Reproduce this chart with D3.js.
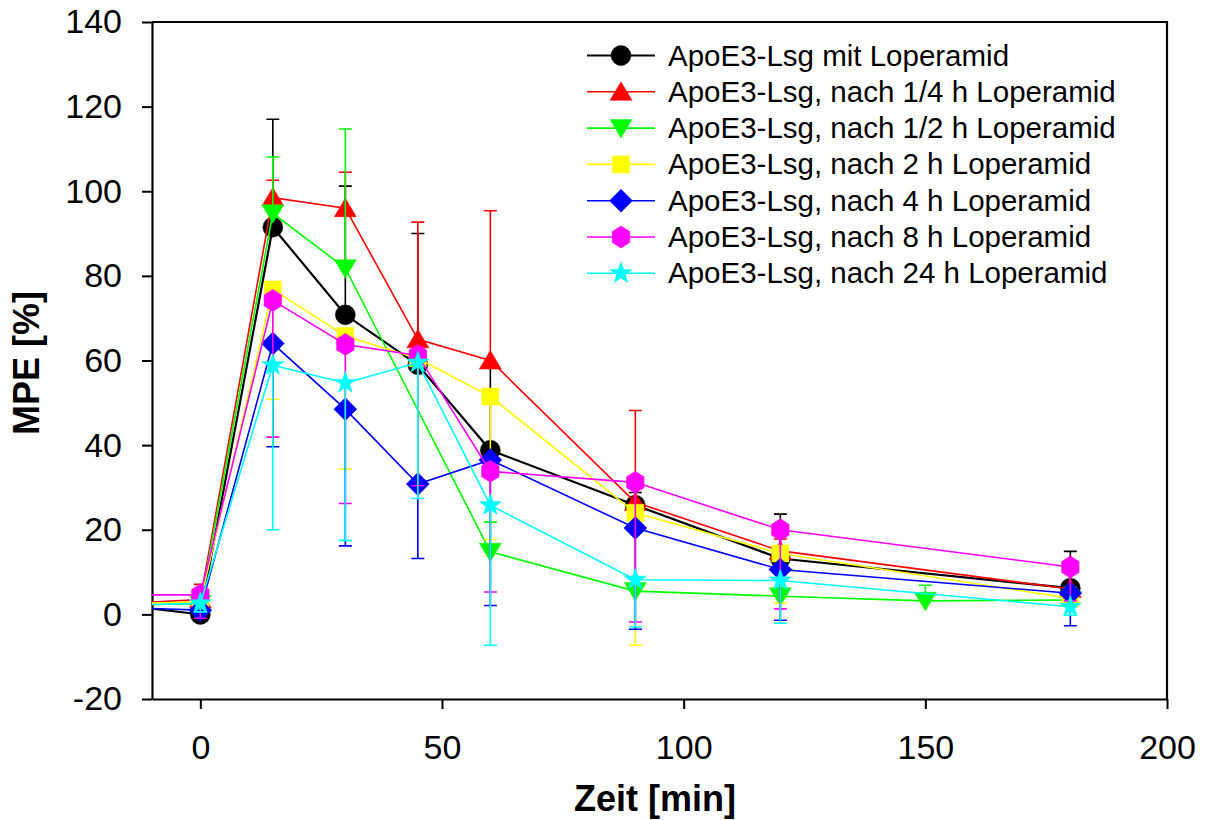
<!DOCTYPE html>
<html>
<head>
<meta charset="utf-8">
<script src="https://cdn.jsdelivr.net/npm/d3@7"></script>
<style>
  html, body { margin: 0; padding: 0; background: #fff; }
  svg { display: block; font-family: "Liberation Sans", Arial, sans-serif; }
</style>
</head>
<body>
<svg id="chart" width="1206" height="820"></svg>
<script>
// Sampling times in minutes (the first one is a pre-baseline reading outside the visible range)
const times = [-15, 0, 15, 30, 45, 60, 90, 120, 150, 180];

// Mean MPE [%] per group (null = not measured)
const mitLoperamid   = [2.0, 0.0, 91.5, 70.8, 59.0, 38.8, 25.8, 13.2, null, 6.2];
const nach15min      = [2.6, 3.5, 98.5, 96.0, 65.0, 60.0, 26.5, 15.0, null, 6.0];
const nach30min      = [2.3, 2.5, 94.8, 81.8, null, 14.8, 5.5, 4.3, 3.2, 3.4];
const nach2h         = [2.5, 3.0, 76.8, 65.8, 60.5, 51.5, 24.0, 14.4, null, 3.8];
const nach4h         = [1.6, 1.0, 64.0, 48.5, 30.8, 36.5, 20.4, 10.6, null, 5.0];
const nach8h         = [4.6, 4.6, 74.2, 63.8, 61.2, 33.8, 31.2, 20.0, null, 11.2];
const nach24h        = [2.2, 2.6, 58.9, 54.7, 59.5, 25.8, 8.2, 8.0, null, 1.8];

// Standard deviations per group
const sdMitLoperamid = [0, 1.5, 25.5, 30.4, 31.0, 20.0, 3.0, 10.5, null, 8.7];
const sdNach15min    = [0, 3.6, 4.1, 8.5, 27.7, 35.4, 21.7, 2.8, null, 4.0];
const sdNach30min    = [0, 2.0, 13.3, 32.9, null, 7.0, 3.0, 2.0, 3.7, 3.0];
const sdNach2h       = [0, 2.0, 26.0, 31.5, 30.0, 33.8, 31.3, 11.8, null, 4.0];
const sdNach4h       = [0, 1.5, 24.4, 32.3, 17.6, 34.4, 23.9, 12.0, null, 7.7];
const sdNach8h       = [0, 5.5, 32.3, 37.6, 30.8, 28.5, 33.0, 18.7, null, 8.0];
const sdNach24h      = [0, 2.0, 38.9, 37.2, 32.1, 33.1, 11.2, 10.1, null, 2.0];

const seriesNames = [
  "ApoE3-Lsg mit Loperamid",
  "ApoE3-Lsg, nach 1/4 h Loperamid",
  "ApoE3-Lsg, nach 1/2 h Loperamid",
  "ApoE3-Lsg, nach 2 h Loperamid",
  "ApoE3-Lsg, nach 4 h Loperamid",
  "ApoE3-Lsg, nach 8 h Loperamid",
  "ApoE3-Lsg, nach 24 h Loperamid"
];
const seriesValues = [mitLoperamid, nach15min, nach30min, nach2h, nach4h, nach8h, nach24h];
const seriesSD = [sdMitLoperamid, sdNach15min, sdNach30min, sdNach2h, sdNach4h, sdNach8h, sdNach24h];
const seriesColors = ["#000000", "#ff0000", "#00ff00", "#ffff00", "#0000ff", "#ff00ff", "#00ffff"];
const seriesSymbols = ["circle", "triangleUp", "triangleDown", "square", "diamond", "hexagon", "star"];
const errorDirection = [1, 1, 1, -1, -1, -1, -1]; // +1 upward bars, -1 downward bars

const xTicks = [0, 50, 100, 150, 200];
const yTicks = [-20, 0, 20, 40, 60, 80, 100, 120, 140];
const xTitle = "Zeit [min]";
const yTitle = "MPE [%]";

// ---- layout ----
const plot = { left: 152, right: 1167, top: 22, bottom: 699 };
const x = d3.scaleLinear().domain([-10, 200]).range([plot.left, plot.right]);
const y = d3.scaleLinear().domain([-20, 140]).range([plot.bottom, plot.top]);

const svg = d3.select("#chart");

svg.append("defs").append("clipPath").attr("id", "plotClip")
  .append("rect")
  .attr("x", plot.left).attr("y", plot.top)
  .attr("width", plot.right - plot.left).attr("height", plot.bottom - plot.top);

// marker path generator
function markerPath(type) {
  switch (type) {
    case "circle": {
      const r = 10;
      return `M${-r},0A${r},${r} 0 1,0 ${r},0A${r},${r} 0 1,0 ${-r},0Z`;
    }
    case "triangleUp":
      return "M0,-10L11,8.5L-11,8.5Z";
    case "triangleDown":
      return "M0,10L11,-8.5L-11,-8.5Z";
    case "square":
      return "M-8.5,-8.5H8.5V8.5H-8.5Z";
    case "diamond":
      return "M0,-11.5L11.5,0L0,11.5L-11.5,0Z";
    case "hexagon": {
      const R = 11, pts = [];
      for (let i = 0; i < 6; i++) {
        const a = Math.PI / 3 * i - Math.PI / 2;
        pts.push([R * Math.cos(a) * 0.92, R * Math.sin(a)]);
      }
      return "M" + pts.map(p => p.join(",")).join("L") + "Z";
    }
    case "star": {
      const ro = 11.5, ri = 4.6, pts = [];
      for (let i = 0; i < 10; i++) {
        const a = Math.PI / 5 * i - Math.PI / 2;
        const rr = i % 2 === 0 ? ro : ri;
        pts.push([rr * Math.cos(a), rr * Math.sin(a)]);
      }
      return "M" + pts.map(p => p.map(v => v.toFixed(2)).join(",")).join("L") + "Z";
    }
  }
}

// ---- axes ----
const axisFont = 34;
const plainNumber = d => String(d);
const xAxis = svg.append("g")
  .attr("transform", `translate(0,${plot.bottom})`)
  .call(d3.axisBottom(x).tickValues(xTicks).tickFormat(plainNumber)
    .tickSize(10).tickSizeOuter(0).tickPadding(26));
const yAxis = svg.append("g")
  .attr("transform", `translate(${plot.left},0)`)
  .call(d3.axisLeft(y).tickValues(yTicks).tickFormat(plainNumber)
    .tickSize(10).tickSizeOuter(0).tickPadding(20));

[xAxis, yAxis].forEach(g => {
  g.attr("font-family", null).attr("font-size", null);
  g.selectAll("path.domain").attr("stroke", "#000").attr("stroke-width", 2.2);
  g.selectAll(".tick line").attr("stroke", "#000").attr("stroke-width", 2);
  g.selectAll(".tick text")
    .attr("fill", "#000")
    .style("font-family", '"Liberation Sans", Arial, sans-serif')
    .style("font-size", axisFont + "px");
});

// top and right border of the plot frame
svg.append("path")
  .attr("d", `M${plot.left},${plot.top}H${plot.right}V${plot.bottom}`)
  .attr("fill", "none").attr("stroke", "#000").attr("stroke-width", 2.2);

// axis titles
svg.append("text")
  .attr("x", 655).attr("y", 811)
  .attr("text-anchor", "middle")
  .style("font-size", "36px").style("font-weight", "bold")
  .text(xTitle);
svg.append("text")
  .attr("transform", "translate(39,363) rotate(-90)")
  .attr("text-anchor", "middle")
  .style("font-size", "36px").style("font-weight", "bold")
  .text(yTitle);

// ---- series ----
const plotArea = svg.append("g").attr("clip-path", "url(#plotClip)");
const capHalf = 6.5;

seriesValues.forEach((vals, si) => {
  const color = seriesColors[si];
  const pts = times.map((t, i) => ({ t, v: vals[i], sd: seriesSD[si][i] }))
    .filter(d => d.v !== null);
  const g = plotArea.append("g");

  g.append("path")
    .datum(pts)
    .attr("fill", "none")
    .attr("stroke", color)
    .attr("stroke-width", si === 0 ? 2.2 : 1.6)
    .attr("d", d3.line().x(d => x(d.t)).y(d => y(d.v)));

  // one-sided error bars
  const bars = pts.filter(d => d.sd && d.sd > 0);
  const dir = errorDirection[si];
  g.selectAll("path.err").data(bars).enter().append("path")
    .attr("class", "err")
    .attr("fill", "none")
    .attr("stroke", color)
    .attr("stroke-width", 1.6)
    .attr("d", d => {
      const cx = x(d.t), y0 = y(d.v), y1 = y(d.v + dir * d.sd);
      return `M${cx},${y0}V${y1}M${cx - capHalf},${y1}H${cx + capHalf}`;
    });

  g.selectAll("path.mk").data(pts).enter().append("path")
    .attr("class", "mk")
    .attr("transform", d => `translate(${x(d.t)},${y(d.v)})`)
    .attr("d", markerPath(seriesSymbols[si]))
    .attr("fill", color)
    .attr("stroke", color)
    .attr("stroke-width", 0.5);
});

// ---- legend ----
const legend = svg.append("g");
const legendBase = 65.5, legendStep = 36.3;
seriesNames.forEach((name, i) => {
  const base = legendBase + i * legendStep;
  const cy = base - 10;
  legend.append("line")
    .attr("x1", 587).attr("x2", 655).attr("y1", cy).attr("y2", cy)
    .attr("stroke", seriesColors[i]).attr("stroke-width", i === 0 ? 2.2 : 1.6);
  legend.append("path")
    .attr("transform", `translate(621,${cy})`)
    .attr("d", markerPath(seriesSymbols[i]))
    .attr("fill", seriesColors[i])
    .attr("stroke", seriesColors[i]).attr("stroke-width", 0.5);
  legend.append("text")
    .attr("x", 668).attr("y", base)
    .style("font-size", "29.5px")
    .attr("fill", "#000")
    .text(name);
});
</script>
</body>
</html>
